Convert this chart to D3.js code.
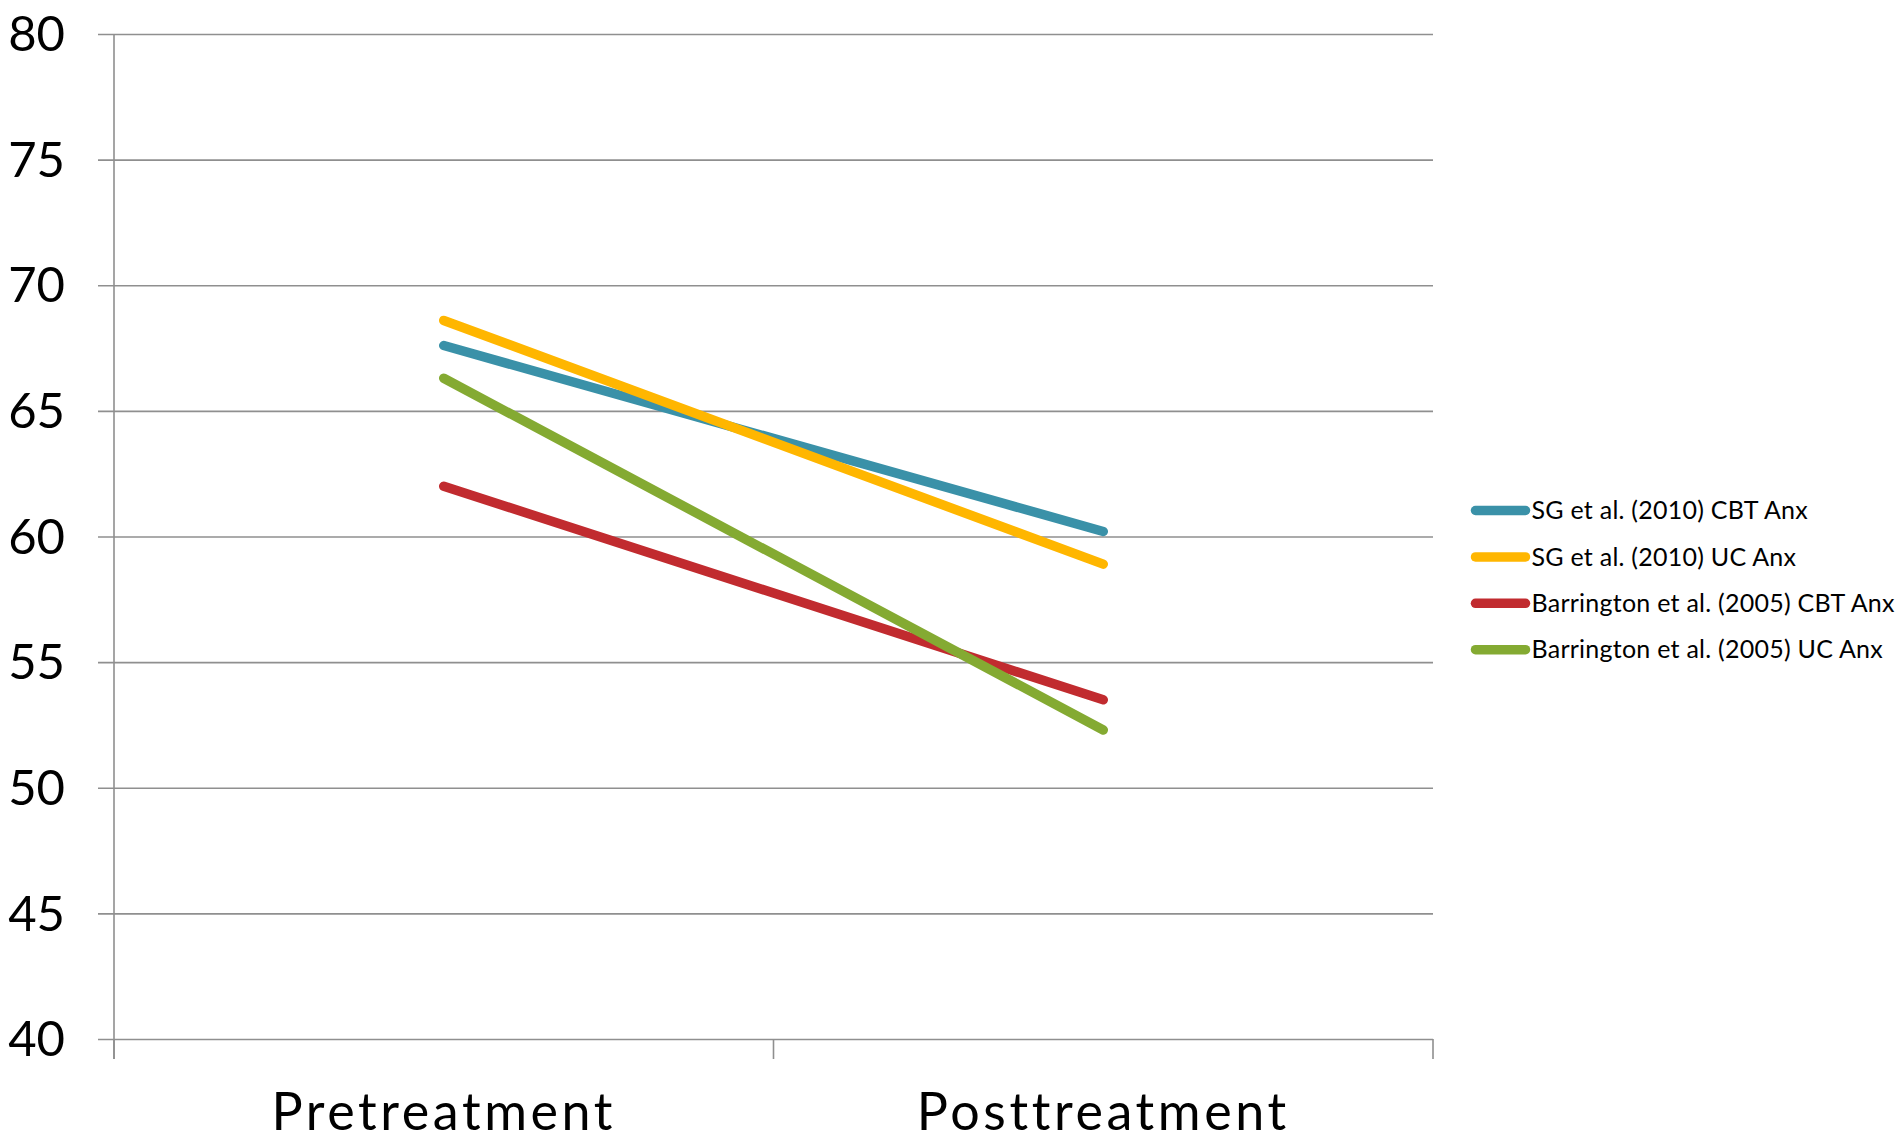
<!DOCTYPE html>
<html>
<head>
<meta charset="utf-8">
<script src="https://cdn.jsdelivr.net/npm/d3@7"></script>
<style>
  html, body { margin: 0; padding: 0; background: #fff; }
  svg { display: block; }
  text { font-family: "Lato", "Open Sans", sans-serif; fill: #000; }
</style>
</head>
<body>
<svg id="chart" width="1901" height="1143"></svg>
<script>
// Phases on the x axis
const phases = ["Pretreatment", "Posttreatment"];

// Anxiety scores per group (pre, post)
const sgCbtAnx = [67.6, 60.2];
const sgUcAnx = [68.6, 58.9];
const barringtonCbtAnx = [62.0, 53.5];
const barringtonUcAnx = [66.3, 52.3];

const seriesNames = [
  "SG et al. (2010) CBT Anx",
  "SG et al. (2010) UC Anx",
  "Barrington et al. (2005) CBT Anx",
  "Barrington et al. (2005) UC Anx"
];
const seriesColors = ["#3A91A8", "#FFB600", "#C12B2F", "#84AA32"];

const yTicks = [40, 45, 50, 55, 60, 65, 70, 75, 80];

const series = [sgCbtAnx, sgUcAnx, barringtonCbtAnx, barringtonUcAnx].map((vals, i) => ({
  name: seriesNames[i],
  color: seriesColors[i],
  values: vals
}));

const svg = d3.select("#chart");
const plot = { left: 114, right: 1433, top: 34, bottom: 1039 };

const x = d3.scaleBand().domain(phases).range([plot.left, plot.right]).paddingInner(0).paddingOuter(0);
const y = d3.scaleLinear().domain([40, 80]).range([plot.bottom, plot.top]);

const gridColor = "#8f8f8f";
const seriesWidth = 9.5;

// Horizontal gridlines with outward ticks and value labels
const yAxis = d3.axisLeft(y)
  .tickValues(yTicks)
  .tickSizeInner(plot.right - (plot.left - 16))
  .tickSizeOuter(0)
  .tickPadding(33)
  .tickFormat(d3.format("d"));

const gy = svg.append("g")
  .attr("transform", `translate(${plot.right},0)`)
  .call(yAxis);
gy.select(".domain").remove();
gy.selectAll(".tick line").attr("stroke", gridColor).attr("stroke-width", 1.6);
gy.selectAll(".tick text")
  .style("font-size", "49px")
  .attr("dy", "0.34em");

// Vertical axis line
svg.append("line")
  .attr("x1", plot.left).attr("x2", plot.left)
  .attr("y1", plot.top).attr("y2", plot.bottom + 20)
  .attr("stroke", gridColor).attr("stroke-width", 1.6);

// Category boundary ticks below the axis
const boundaries = phases.map(p => x(p)).concat([x.range()[1]]);
svg.append("g").selectAll("line")
  .data(boundaries)
  .join("line")
  .attr("x1", d => d).attr("x2", d => d)
  .attr("y1", plot.bottom).attr("y2", plot.bottom + 20)
  .attr("stroke", gridColor).attr("stroke-width", 1.6);

// Category labels
const xAxis = d3.axisBottom(x).tickSize(0).tickPadding(0);
const gx = svg.append("g")
  .attr("transform", `translate(0,${plot.bottom})`)
  .call(xAxis);
gx.select(".domain").remove();
gx.selectAll(".tick text")
  .attr("y", 91)
  .attr("dy", 0)
  .style("font-size", "52px")
  .style("letter-spacing", "3.6px");

// Series lines
const line = d3.line()
  .x((d, i) => x(phases[i]) + x.bandwidth() / 2)
  .y(d => y(d));

svg.append("g").selectAll("path")
  .data(series)
  .join("path")
  .attr("d", d => line(d.values))
  .attr("fill", "none")
  .attr("stroke", d => d.color)
  .attr("stroke-width", seriesWidth)
  .attr("stroke-linecap", "round");

// Legend
const legend = svg.append("g").attr("transform", "translate(1475.5,510.5)");
const rows = legend.selectAll("g")
  .data(series)
  .join("g")
  .attr("transform", (d, i) => `translate(0,${i * 46.4})`);
rows.append("line")
  .attr("x1", 0).attr("x2", 50)
  .attr("y1", 0).attr("y2", 0)
  .attr("stroke", d => d.color)
  .attr("stroke-width", seriesWidth)
  .attr("stroke-linecap", "round");
rows.append("text")
  .attr("x", 56)
  .attr("dy", "0.35em")
  .style("font-size", "25px")
  .style("letter-spacing", "0.25px")
  .text(d => d.name);
</script>
</body>
</html>
